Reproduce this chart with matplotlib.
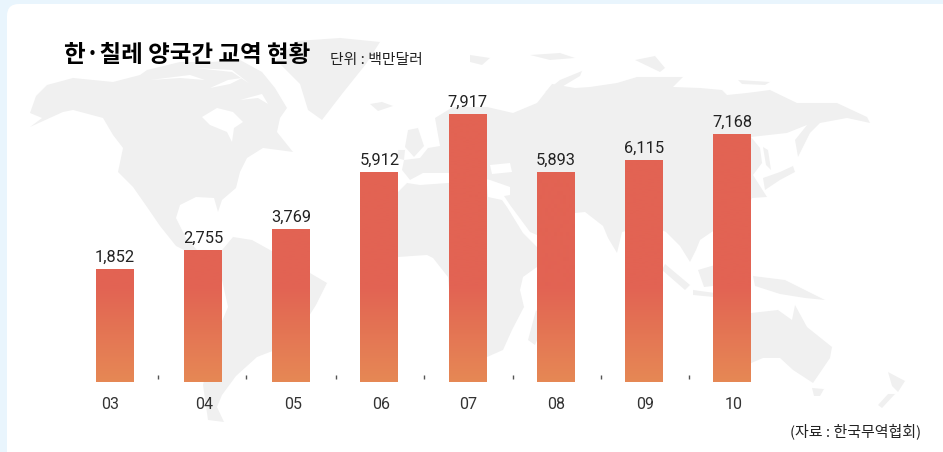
import numpy as np
import matplotlib
matplotlib.use("Agg")
import matplotlib.pyplot as plt
from matplotlib.patches import FancyBboxPatch, Polygon
from matplotlib.colors import LinearSegmentedColormap

years = ["03", "04", "05", "06", "07", "08", "09", "10"]
values = [1852, 2755, 3769, 5912, 7917, 5893, 6115, 7168]
# The source's bars are not proportional to their labels: this non-linear axis reproduces them.
axis_values = [0, 1852, 2755, 3769, 5893, 5912, 6115, 7168, 7917, 10000]
axis_heights = [0, 113, 132, 153, 209.8, 210, 222, 248, 268, 320]

W, H = 943, 452
KR = ["Noto Sans CJK KR", "DejaVu Sans"]
NUM = ["Roboto", "DejaVu Sans"]
fig = plt.figure(figsize=((W + 0.02) / 100, (H + 0.02) / 100), dpi=100, facecolor="#e9f5fd")

bg = fig.add_axes([0, 0, 1, 1], zorder=0)
bg.set_xlim(0, W)
bg.set_ylim(H, 0)
bg.axis("off")
bg.add_patch(FancyBboxPatch((7, 4), W + 40, H + 40, boxstyle="round,pad=0,rounding_size=12",
                            fc="white", ec="none"))
LAND = "#f0f0f0"
land = [
    # North America with the Arctic archipelago
    [(30,127),(42,118),(30,113),(36,96),(47,85),(73,78),(113,82),(140,75),(147,70),(180,62),(210,62),(240,60),(262,72),(275,88),
     (287,108),(280,118),(277,132),(285,142),(293,152),(278,150),(263,148),(247,158),(240,172),(236,188),(222,200),(218,212),(214,198),
     (196,197),(180,205),(176,218),(186,238),(197,250),(206,250),(212,258),(226,262),(232,272),(216,268),(200,258),(176,246),(160,226),
     (147,207),(133,187),(118,172),(123,148),(113,135),(103,118),(73,110),(63,112)],
    # Greenland
    [(297,41),(340,38),(380,42),(366,64),(342,94),(322,120),(308,110),(300,84),(276,60)],
    # Iceland, UK, Ireland
    [(370,104),(382,102),(393,106),(378,111)], [(405,147),(408,130),(418,128),(424,146),(414,157)], [(398,150),(405,150),(404,160),(397,158)],
    # South America
    [(233,237),(252,240),(270,250),(290,262),(310,273),(327,283),(316,305),(300,330),(283,347),(257,357),(236,376),(222,395),
     (217,407),(224,422),(208,420),(203,385),(212,345),(228,307),(222,280),(212,262)],
    # Africa
    [(385,205),(398,192),(407,183),(420,185),(448,183),(487,185),(488,197),(502,200),(507,207),(523,233),(537,247),(537,267),(523,277),
     (520,290),(524,307),(512,330),(503,350),(487,357),(470,366),(458,345),(450,300),(448,277),(433,258),(427,255),(398,257),(375,235)],
    # Madagascar
    [(536,310),(545,322),(535,345),(528,340)],
    # Eurasia
    [(402,170),(404,160),(420,158),(428,148),(440,146),(435,118),(453,107),(487,107),(513,113),(537,103),(552,84),(575,88),
     (590,87),(617,83),(637,77),(683,77),(673,87),(700,88),(722,90),(727,95),(747,93),(770,90),(797,103),(837,103),(867,117),(870,123),
     (847,118),(820,123),(810,133),(798,157),(795,140),(807,125),(787,133),(751,137),(760,148),(762,163),(753,175),(767,197),(752,198),
     (742,222),(722,225),(700,240),(696,250),(690,262),(680,246),(666,232),(650,225),(622,232),(617,253),(608,238),(603,226),(585,212),
     (565,214),(537,235),(530,232),(510,205),(504,196),(510,195),(510,187),(490,180),(470,176),(448,173),(423,173),(410,180)],
    # Novaya Zemlya, Svalbard, north islands
    [(545,92),(560,80),(582,71),(580,76),(560,88)], [(470,55),(490,58),(482,65),(470,62)],
    [(530,55),(560,53),(575,58),(550,60)], [(635,60),(655,56),(665,68),(660,72)], [(738,80),(770,82),(765,85),(742,84)],
    # Sakhalin, Japan
    [(763,147),(768,150),(771,170),(766,165)], [(763,178),(780,172),(793,166),(795,172),(780,180),(765,190)],
    # South-East Asia
    [(665,264),(690,285),(685,290),(662,270)], [(693,290),(715,293),(714,297),(693,295)], [(698,270),(725,262),(722,285),(704,287)],
    [(733,262),(742,268),(738,280),(728,275)], [(740,238),(748,240),(750,262),(742,258)],
    # New Guinea, Australia, Tasmania, New Zealand
    [(753,276),(785,280),(825,300),(805,298),(780,294),(755,286)],
    [(730,320),(751,313),(778,310),(792,320),(795,305),(807,327),(832,347),(830,358),(813,383),(793,370),(780,358),(763,358),
     (735,370),(722,365),(722,340)],
    [(812,388),(824,389),(820,396),(814,396)],
    [(888,372),(905,381),(898,392),(892,386)], [(895,394),(882,408),(878,405),(888,394)],
]
for poly in land:
    bg.add_patch(Polygon(poly, closed=True, fc=LAND, ec="none"))
# Hudson Bay, Black Sea, thin Arctic channels
sea = [[(202,117),(217,108),(233,112),(243,122),(234,128),(232,142),(227,132),(210,125)],
       [(490,165),(510,163),(512,172),(492,174)],
       [(150,80),(190,75),(205,80),(180,78)], [(210,88),(228,80),(242,78),(230,84)],
       [(195,68),(232,72),(250,84),(232,70)], [(240,100),(262,94),(268,104),(258,98)]]
for poly in sea:
    bg.add_patch(Polygon(poly, closed=True, fc="white", ec="none"))

base_y, top_y, left_x, right_x = 382, 82, 60, 800
x0, dx = 115.0, 88.14
ax = fig.add_axes([left_x / W, 1 - base_y / H, (right_x - left_x) / W, (base_y - top_y) / H], zorder=1)
ax.patch.set_alpha(0)
fwd = lambda v: np.interp(v, axis_values, axis_heights)
inv = lambda h: np.interp(h, axis_heights, axis_values)
ax.set_yscale("function", functions=(fwd, inv))
for s in ax.spines.values():
    s.set_visible(False)
ax.yaxis.set_visible(False)

x = np.arange(len(years))
bars = ax.bar(x, values, width=37.9 / dx, color="#e26353", linewidth=0)

cmap = LinearSegmentedColormap.from_list("g", ["#e68855", "#e26353"])
g = np.clip(np.linspace(1, 0, 300) * 300 / 95, 0, 1)[:, None]
ax.set_autoscale_on(False)
for b in bars:
    im = ax.imshow(g, cmap=cmap, vmin=0, vmax=1, extent=[0, 1, 0, 1], transform=ax.transAxes,
                   aspect="auto", zorder=2, interpolation="bilinear")
    im.set_clip_path(b)
ax.set_xlim((left_x - x0) / dx, (right_x - x0) / dx)
ax.set_ylim(0, float(inv(base_y - top_y)))

for xi, v in zip(x, values):
    ax.annotate(f"{v:,}", (xi, v), xytext=(0, 5), textcoords="offset points", ha="center", va="baseline",
                fontsize=11.8, family=NUM, color="#222222", zorder=3)

label_shift = [-0.05, 0.015, 0.02, 0.015, 0.01, 0.01, 0.01, 0.015]
ax.set_xticks(x + np.array(label_shift))
ax.set_xticklabels(years, fontsize=11.5, family=NUM, color="#333333")
ax.tick_params(axis="x", length=0, pad=10.7)

sep_x = [0.487, 1.487, 2.508, 3.507, 4.512, 5.512, 6.512]
ax.vlines(sep_x, 3 / 300, 7 / 300, transform=ax.get_xaxis_transform(), color="#555555", lw=1, zorder=3)

bg.text(64, 55, "한·칠레 양국간 교역 현황", family=KR, fontsize=16.95, fontweight="bold", color="black",
        ha="left", va="center")
bg.text(330, 59.6, "단위 : 백만달러", family=KR, fontsize=10.7, color="#222222", ha="left", va="center")
bg.text(921, 431, "(자료 : 한국무역협회)", family=KR, fontsize=10.8, color="#222222", ha="right", va="center")

fig.savefig("out.png", dpi=100, facecolor=fig.get_facecolor())
